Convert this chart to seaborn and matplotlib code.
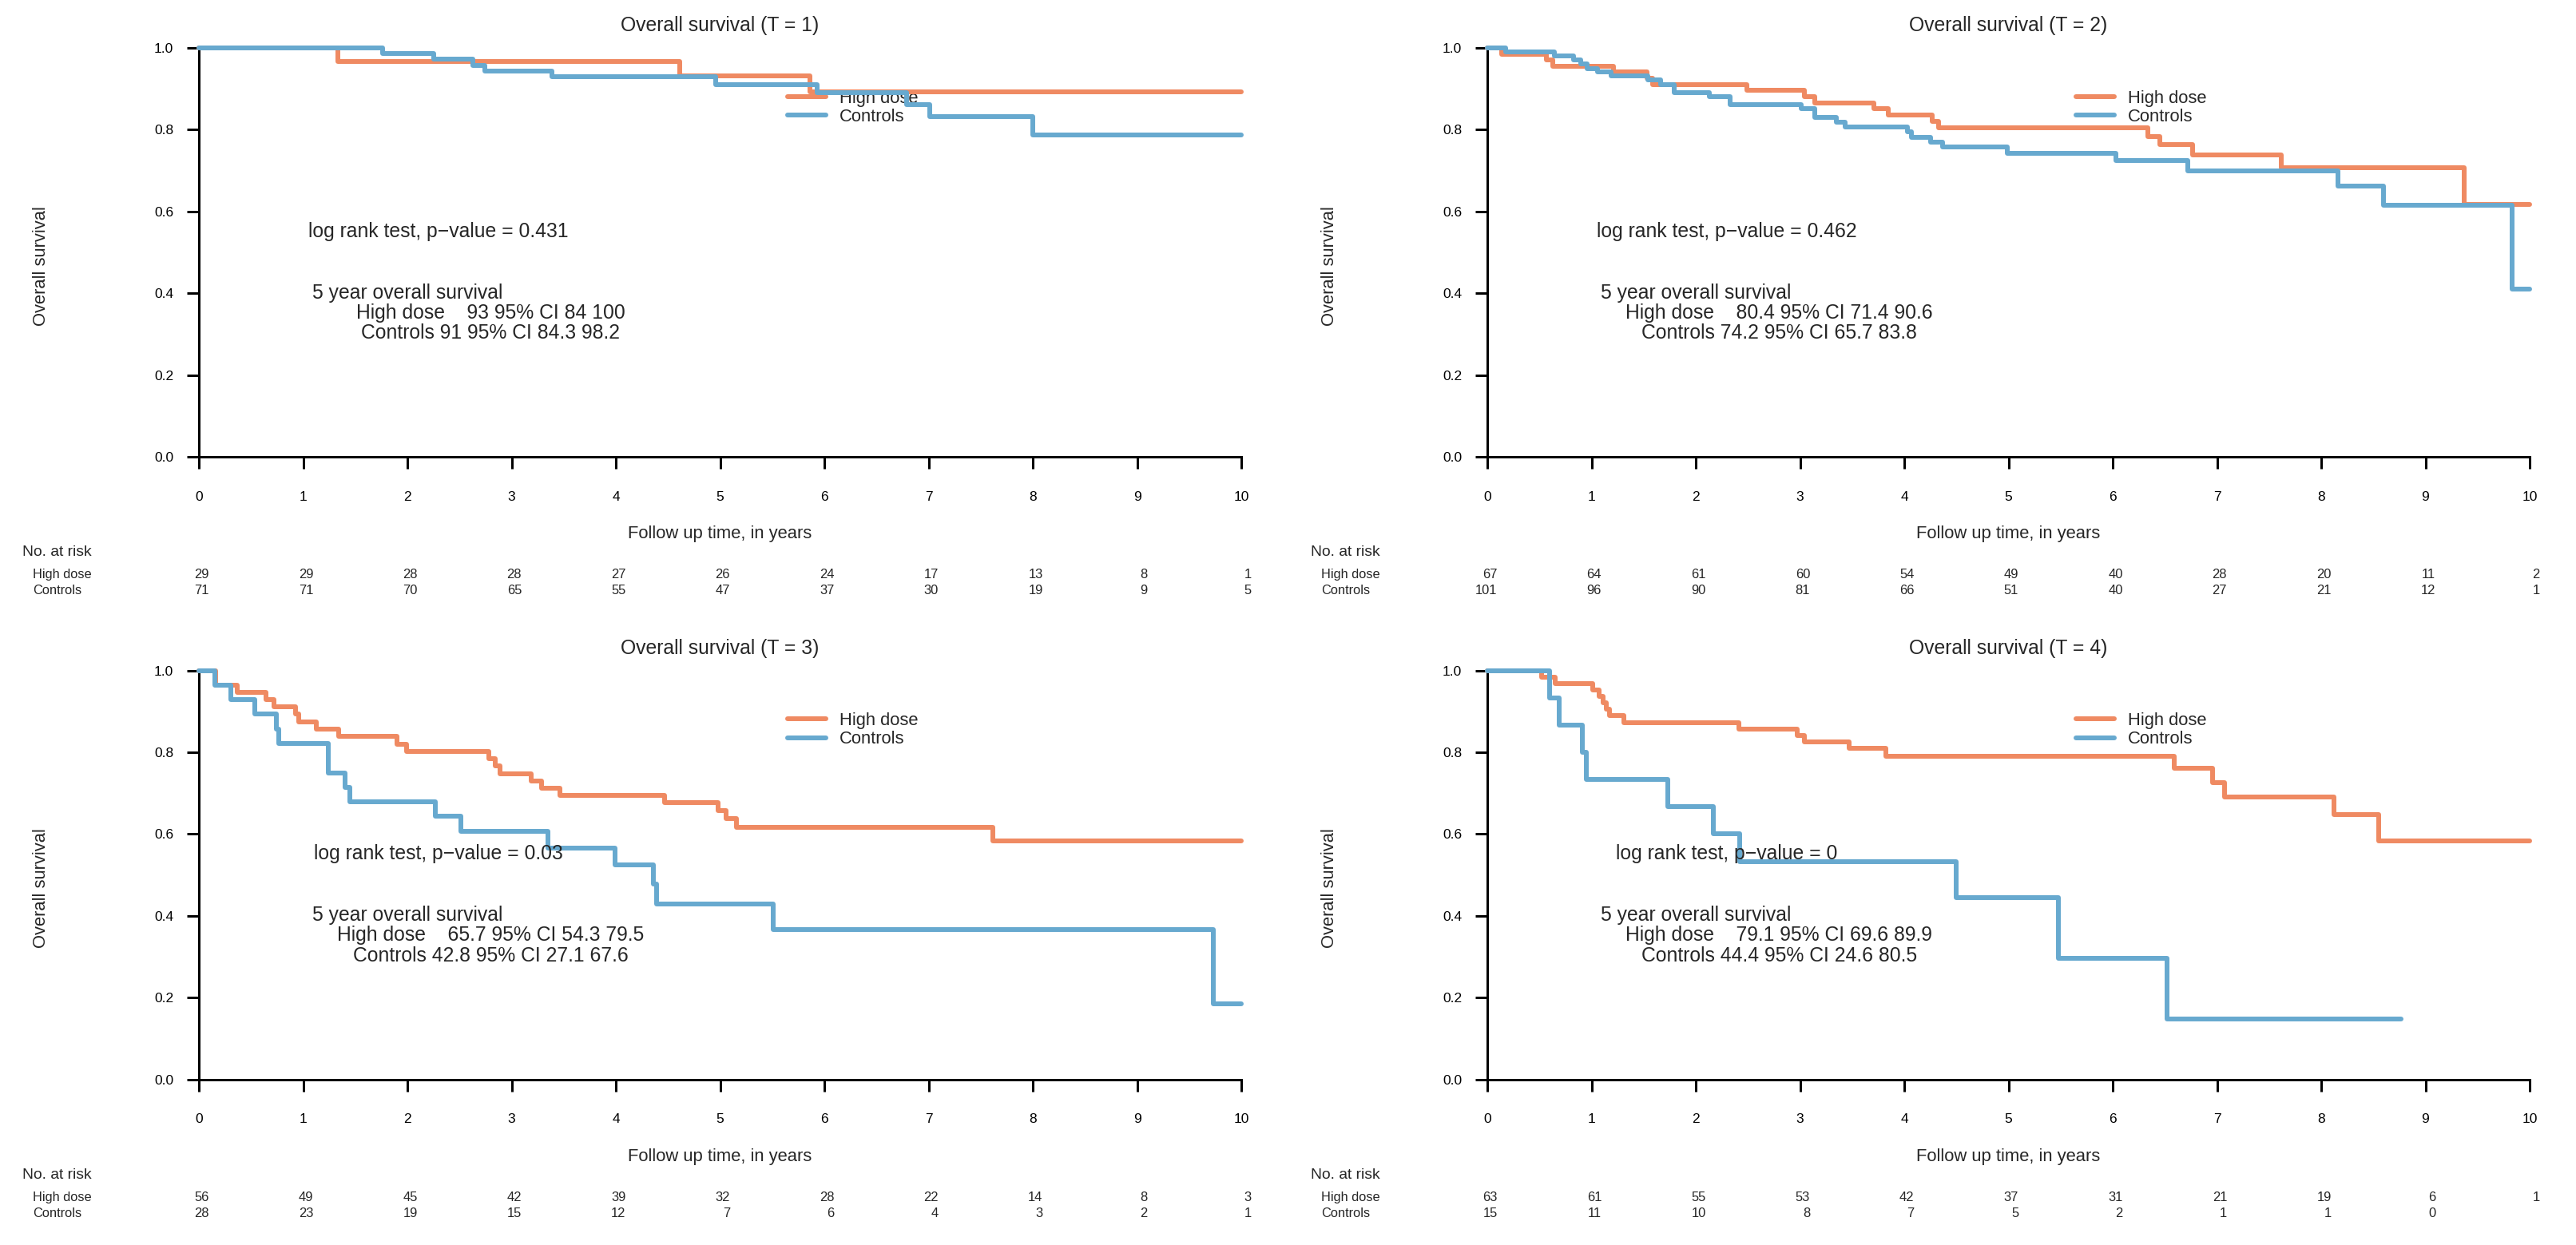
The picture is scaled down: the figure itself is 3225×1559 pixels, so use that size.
import matplotlib
matplotlib.use("Agg")
import matplotlib.pyplot as plt
import matplotlib.transforms as mtransforms
import seaborn as sns
import pandas as pd

# ---------------- data ----------------
panel_titles = ["Overall survival (T = 1)", "Overall survival (T = 2)",
                "Overall survival (T = 3)", "Overall survival (T = 4)"]
group_names = ["High dose", "Controls"]

T1_hd_t = [0, 1.33, 4.61, 5.86, 10]
T1_hd_s = [1.0, 0.966, 0.932, 0.893, 0.893]
T1_ct_t = [0, 1.76, 2.25, 2.63, 2.74, 3.39, 4.96, 5.93, 6.79, 7.01, 8.0, 10]
T1_ct_s = [1.0, 0.986, 0.972, 0.958, 0.944, 0.930, 0.911, 0.890, 0.861, 0.832, 0.787, 0.787]

T2_hd_t = [0, 0.135, 0.57, 0.63, 1.21, 1.53, 1.59, 2.49, 3.04, 3.14, 3.71, 3.85, 4.27, 4.33,
           6.34, 6.45, 6.77, 7.62, 9.37, 10]
T2_hd_s = [1.0, 0.985, 0.970, 0.955, 0.941, 0.926, 0.911, 0.896, 0.881, 0.866, 0.851, 0.835,
           0.820, 0.804, 0.784, 0.763, 0.739, 0.707, 0.618, 0.618]
T2_ct_t = [0, 0.18, 0.64, 0.83, 0.90, 0.96, 1.06, 1.19, 1.54, 1.66, 1.79, 2.13, 2.33, 3.01,
           3.14, 3.35, 3.43, 4.03, 4.07, 4.25, 4.37, 4.99, 6.03, 6.72, 8.16, 8.60, 9.83, 10]
T2_ct_s = [1.0, 0.990, 0.980, 0.970, 0.960, 0.950, 0.941, 0.931, 0.921, 0.911, 0.891, 0.881,
           0.861, 0.851, 0.831, 0.819, 0.807, 0.795, 0.782, 0.770, 0.757, 0.742, 0.724, 0.700,
           0.662, 0.616, 0.411, 0.411]

T3_hd_t = [0, 0.16, 0.37, 0.64, 0.72, 0.93, 0.96, 1.13, 1.34, 1.90, 1.99, 2.78, 2.84, 2.89,
           3.19, 3.29, 3.46, 4.47, 4.98, 5.06, 5.16, 7.62, 10]
T3_hd_s = [1.0, 0.964, 0.946, 0.929, 0.911, 0.893, 0.875, 0.857, 0.838, 0.820, 0.802, 0.784,
           0.766, 0.748, 0.730, 0.712, 0.694, 0.676, 0.657, 0.638, 0.616, 0.583, 0.583]
T3_ct_t = [0, 0.15, 0.31, 0.54, 0.74, 0.77, 1.24, 1.40, 1.45, 2.27, 2.51, 3.35, 3.99, 4.36,
           4.39, 5.51, 9.73, 10]
T3_ct_s = [1.0, 0.964, 0.929, 0.893, 0.857, 0.821, 0.750, 0.714, 0.679, 0.643, 0.607, 0.566,
           0.524, 0.477, 0.428, 0.367, 0.184, 0.184]

T4_hd_t = [0, 0.52, 0.65, 1.01, 1.07, 1.11, 1.14, 1.17, 1.31, 2.41, 2.97, 3.04, 3.47, 3.82,
           6.59, 6.96, 7.07, 8.12, 8.55, 10]
T4_hd_s = [1.0, 0.984, 0.968, 0.952, 0.937, 0.921, 0.905, 0.889, 0.873, 0.857, 0.841, 0.825,
           0.809, 0.791, 0.761, 0.726, 0.691, 0.648, 0.583, 0.583]
T4_ct_t = [0, 0.60, 0.69, 0.91, 0.95, 1.73, 2.17, 2.42, 4.50, 5.48, 6.52, 8.77]
T4_ct_s = [1.0, 0.933, 0.867, 0.800, 0.733, 0.667, 0.600, 0.533, 0.444, 0.296, 0.148, 0.148]

risk_times = [0, 1, 2, 3, 4, 5, 6, 7, 8, 9, 10]
T1_risk_hd = [29, 29, 28, 28, 27, 26, 24, 17, 13, 8, 1]
T1_risk_ct = [71, 71, 70, 65, 55, 47, 37, 30, 19, 9, 5]
T2_risk_hd = [67, 64, 61, 60, 54, 49, 40, 28, 20, 11, 2]
T2_risk_ct = [101, 96, 90, 81, 66, 51, 40, 27, 21, 12, 1]
T3_risk_hd = [56, 49, 45, 42, 39, 32, 28, 22, 14, 8, 3]
T3_risk_ct = [28, 23, 19, 15, 12, 7, 6, 4, 3, 2, 1]
T4_risk_hd = [63, 61, 55, 53, 42, 37, 31, 21, 19, 6, 1]
T4_risk_ct = [15, 11, 10, 8, 7, 5, 2, 1, 1, 0]

p_values = ["0.431", "0.462", "0.03", "0"]
surv5_hd = ["93 95% CI 84 100", "80.4 95% CI 71.4 90.6",
            "65.7 95% CI 54.3 79.5", "79.1 95% CI 69.6 89.9"]
surv5_ct = ["91 95% CI 84.3 98.2", "74.2 95% CI 65.7 83.8",
            "42.8 95% CI 27.1 67.6", "44.4 95% CI 24.6 80.5"]

curves = [
    [(T1_hd_t, T1_hd_s), (T1_ct_t, T1_ct_s)],
    [(T2_hd_t, T2_hd_s), (T2_ct_t, T2_ct_s)],
    [(T3_hd_t, T3_hd_s), (T3_ct_t, T3_ct_s)],
    [(T4_hd_t, T4_hd_s), (T4_ct_t, T4_ct_s)],
]
risks = [(T1_risk_hd, T1_risk_ct), (T2_risk_hd, T2_risk_ct),
         (T3_risk_hd, T3_risk_ct), (T4_risk_hd, T4_risk_ct)]

colors = ["#EF8A62", "#67A9CF"]

# ---------------- style ----------------
sns.set_style("ticks")
plt.rcParams["font.family"] = ["Liberation Sans", "DejaVu Sans"]
plt.rcParams["axes.unicode_minus"] = True

W, H = 3225, 1559
fig = plt.figure(figsize=(W / 100, H / 100), dpi=100)

ax_w = 1305 / W
ax_h = 512 / H
lefts = [249 / W, 1862 / W]
bottoms = [1 - 572 / H, 1 - 1351.5 / H]

def fx(px):
    return (px - 249) / 1305

def fy(py):
    return (572 - py) / 512

for i in range(4):
    row, col = divmod(i, 2)
    ax = fig.add_axes([lefts[col], bottoms[row], ax_w, ax_h])
    ax.set_facecolor("white")

    for g, (tt, ss) in enumerate(curves[i]):
        df = pd.DataFrame({"time": tt, "surv": ss})
        sns.lineplot(data=df, x="time", y="surv", ax=ax, drawstyle="steps-post",
                     color=colors[g], linewidth=4.3, estimator=None, sort=False,
                     label=group_names[g], legend=False, clip_on=False, zorder=3,
                     solid_joinstyle="round")

    ax.set_xlim(0, 10)
    ax.set_ylim(0, 1)
    ax.set_xticks(range(0, 11))
    ax.set_yticks([0, 0.2, 0.4, 0.6, 0.8, 1.0])
    ax.set_yticklabels(["0.0", "0.2", "0.4", "0.6", "0.8", "1.0"])
    ax.tick_params(axis="both", length=10.8, width=2.16, color="black",
                   labelsize=12.5, labelcolor="black", direction="out")
    ax.tick_params(axis="x", pad=20)
    ax.tick_params(axis="y", pad=12)
    for side in ["top", "right"]:
        ax.spines[side].set_visible(False)
    for side in ["left", "bottom"]:
        ax.spines[side].set_linewidth(2.16)
        ax.spines[side].set_color("black")

    ax.set_xlabel("Follow up time, in years", fontsize=15.8)
    ax.xaxis.label.set_va("center")
    ax.xaxis.set_label_coords(0.5, fy(669))
    ax.set_ylabel("Overall survival", fontsize=15.8)
    ax.yaxis.label.set_va("center")
    ax.yaxis.set_label_coords(fx(52), fy(333))

    ax.text(0.5, fy(32), panel_titles[i], transform=ax.transAxes,
            ha="center", va="center", fontsize=17.8)

    # legend
    handles = ax.get_lines()[:2]
    leg = ax.legend(handles, group_names, loc="center left",
                    bbox_to_anchor=(5.65, 0.854), bbox_transform=ax.transData,
                    frameon=False, fontsize=15.8, handlelength=2.15,
                    handletextpad=0.8, labelspacing=0.1, borderpad=0,
                    borderaxespad=0)
    leg.set_zorder(1)

    # annotations
    ax.text(2.3, 0.551, "log rank test, p\u2212value = " + p_values[i],
            ha="center", va="center", fontsize=17.8, zorder=4)
    ax.text(2.0, 0.401, "5 year overall survival", ha="center", va="center",
            fontsize=17.8, zorder=4)
    ax.text(2.8, 0.352, "High dose    " + surv5_hd[i], ha="center", va="center",
            fontsize=17.8, zorder=4)
    ax.text(2.8, 0.302, "Controls " + surv5_ct[i], ha="center", va="center",
            fontsize=17.8, zorder=4)

    # number at risk table
    ax.text(fx(28), fy(692), "No. at risk", transform=ax.transAxes,
            ha="left", va="center", fontsize=13.9)
    ax.text(fx(41), fy(720), "High dose", transform=ax.transAxes,
            ha="left", va="center", fontsize=11.8)
    ax.text(fx(41), fy(740), "Controls", transform=ax.transAxes,
            ha="left", va="center", fontsize=11.8)
    trans = mtransforms.blended_transform_factory(ax.transData, ax.transAxes)
    hd_r, ct_r = risks[i]
    for t, n in zip(risk_times, hd_r):
        ax.text(t + 0.096, fy(720), str(n), transform=trans, ha="right",
                va="center", fontsize=11.9, clip_on=False)
    for t, n in zip(risk_times, ct_r):
        ax.text(t + 0.096, fy(740), str(n), transform=trans, ha="right",
                va="center", fontsize=11.9, clip_on=False)

fig.savefig("out.png", dpi=100, facecolor="white")
